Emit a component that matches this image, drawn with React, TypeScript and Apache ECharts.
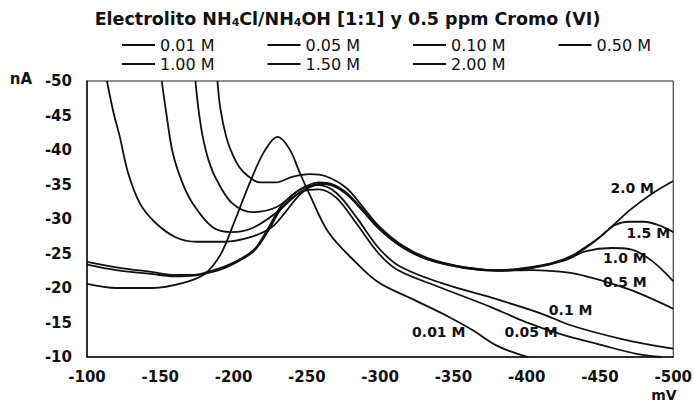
import React, { useEffect, useRef } from 'react';
import * as echarts from 'echarts';

const FONT = 'DejaVu Sans';

const legendRow1 = ['0.01 M', '0.05 M', '0.10 M', '0.50 M'];
const legendRow2 = ['1.00 M', '1.50 M', '2.00 M'];

// [mV, nA]
const c001: number[][] = [
  [-100, -20.6], [-120, -20.0], [-145, -20.0], [-165, -20.7], [-180, -22.0], [-191, -24.8],
  [-200, -29.3], [-211, -35.2], [-221, -39.8], [-230, -41.9], [-238, -40.2], [-245, -36.8],
  [-252, -33.5], [-265, -28.0], [-284, -23.6], [-299, -20.8], [-320, -18.6], [-347, -15.8],
  [-363, -13.9], [-381, -11.5], [-401, -10.0],
];
const c005: number[][] = [
  [-100, -23.4], [-120, -22.6], [-145, -22.0], [-160, -21.7], [-173, -21.8], [-185, -22.3],
  [-195, -23.0], [-207, -24.3], [-215, -25.6], [-224, -28.4], [-233, -31.6], [-247, -34.0],
  [-258, -34.3], [-270, -33.1], [-284, -29.3], [-299, -25.0], [-312, -22.6], [-342, -20.0],
  [-376, -17.2], [-399, -15.1], [-422, -13.4], [-450, -11.8], [-476, -10.4], [-492, -10.0],
];
const c010: number[][] = [
  [-100, -23.8], [-120, -23.0], [-145, -22.3], [-160, -21.9], [-173, -21.9], [-185, -22.5],
  [-195, -23.2], [-207, -24.5], [-215, -25.8], [-224, -28.8], [-233, -32.0], [-247, -34.5],
  [-258, -34.9], [-270, -33.8], [-284, -30.2], [-299, -25.8], [-313, -23.2], [-342, -20.7],
  [-376, -18.6], [-410, -16.3], [-430, -14.6], [-465, -12.6], [-500, -11.2],
];
const c050: number[][] = [
  [-113.6, -50], [-118, -45.5], [-122.4, -41.9], [-128, -36.7], [-136, -32.3], [-146, -29.6],
  [-160, -27.4], [-175, -26.7], [-194, -26.7], [-212, -27.4], [-226, -28.8], [-235, -30.9],
  [-245, -33.5], [-252, -34.6], [-260, -35.1], [-268, -34.8], [-277, -33.6], [-288, -31.2],
  [-299, -28.6], [-315, -25.9], [-333, -24.1], [-358, -22.9], [-381, -22.5], [-403, -22.6],
  [-430, -22.2], [-444, -21.5], [-454, -20.9], [-476, -19.3], [-500, -17.0],
];
const c100: number[][] = [
  [-151, -50], [-154, -45.5], [-158.5, -39.6], [-165, -35.3], [-172, -32.3], [-185.7, -28.8],
  [-199, -28.1], [-213, -28.7], [-229, -30.9], [-245, -33.8], [-258, -35.1], [-268, -34.9],
  [-277, -33.7], [-288, -31.3], [-299, -28.7], [-315, -26.0], [-333, -24.1], [-358, -22.9],
  [-381, -22.5], [-403, -22.9], [-426, -24.0], [-440, -25.3], [-458, -25.8], [-471, -25.6],
  [-485, -24.0], [-500, -21.0],
];
const c150: number[][] = [
  [-174, -50], [-176, -46], [-179, -41.9], [-183, -38.5], [-188.4, -35.7], [-199, -32.3],
  [-213, -31.0], [-229, -31.7], [-245, -34.2], [-258, -35.3], [-268, -35.0], [-277, -33.8],
  [-288, -31.4], [-299, -28.8], [-315, -26.0], [-333, -24.2], [-358, -23.0], [-381, -22.6],
  [-403, -22.9], [-426, -24.1], [-440, -25.9], [-450, -27.4], [-460, -29.1], [-470, -29.6],
  [-480, -29.6], [-490, -29.1], [-500, -28.1],
];
const c200: number[][] = [
  [-189, -50], [-191, -46], [-195, -41.9], [-199, -39.5], [-204, -37.5], [-210, -36.2],
  [-218, -35.3], [-229, -35.3], [-240, -36.1], [-252, -36.5], [-263, -36.2], [-277, -34.5],
  [-288, -31.8], [-299, -29.0], [-315, -26.2], [-333, -24.3], [-358, -23.0], [-381, -22.6],
  [-395, -22.8], [-417, -23.6], [-435, -25.1], [-449, -27.2], [-460, -29.3], [-471, -31.4],
  [-485, -33.6], [-500, -35.5],
];

const curves = [c001, c005, c010, c050, c100, c150, c200];
const names = [...legendRow1, ...legendRow2];

const annotations: { text: string; at: number[] }[] = [
  { text: '2.0 M', at: [-472, -34.5] },
  { text: '1.5 M', at: [-483, -28.0] },
  { text: '1.0 M', at: [-467, -24.3] },
  { text: '0.5 M', at: [-467, -20.9] },
  { text: '0.1 M', at: [-430, -16.8] },
  { text: '0.05 M', at: [-403, -13.6] },
  { text: '0.01 M', at: [-340, -13.6] },
];

export default function App() {
  const ref = useRef<HTMLDivElement>(null);
  useEffect(() => {
    if (!ref.current) return;
    const chart = echarts.init(ref.current, null, { renderer: 'svg' });
    const legendBase = {
      orient: 'horizontal',
      left: 122,
      icon: 'rect',
      itemWidth: 33,
      itemHeight: 2,
      itemGap: 53,
      padding: 0,
      textStyle: { fontFamily: FONT, fontSize: 16, color: '#111', padding: [0, 0, 0, 0] },
      inactiveColor: '#111',
      selectedMode: false,
    };
    chart.setOption({
      animation: false,
      backgroundColor: '#fff',
      title: {
        text: 'Electrolito NH{s|4}Cl/NH{s|4}OH [1:1] y 0.5 ppm Cromo (VI)',
        left: 'center',
        top: 5,
        textStyle: {
          fontFamily: FONT,
          fontSize: 17.5,
          fontWeight: 'bold',
          color: '#111',
          rich: {
            s: { fontFamily: FONT, fontSize: 11, fontWeight: 'bold', color: '#111', verticalAlign: 'bottom', padding: [6, 0, 0, 0] },
          },
        },
      },
      legend: [
        { ...legendBase, top: 37, data: legendRow1 },
        { ...legendBase, top: 56, data: legendRow2 },
      ],
      grid: {
        left: 87,
        right: 20,
        top: 81,
        bottom: 45,
        show: true,
        borderColor: '#222',
        borderWidth: 1,
        backgroundColor: 'transparent',
      },
      xAxis: {
        type: 'value',
        inverse: true,
        min: -500,
        max: -100,
        interval: 50,
        axisLine: { show: true, lineStyle: { color: '#111', width: 1.5 } },
        axisTick: { show: false },
        splitLine: { show: false },
        axisLabel: { margin: 12, fontFamily: FONT, fontSize: 15, fontWeight: 'bold', color: '#111' },
      },
      yAxis: {
        type: 'value',
        inverse: true,
        min: -50,
        max: -10,
        interval: 5,
        axisLine: { show: true, lineStyle: { color: '#111', width: 1.5 } },
        axisTick: { show: false },
        splitLine: { show: false },
        axisLabel: { margin: 15, fontFamily: FONT, fontSize: 15, fontWeight: 'bold', color: '#111' },
      },
      series: curves.map((d, i) => ({
        name: names[i],
        type: 'line',
        data: d,
        smooth: 0.35,
        symbol: 'none',
        color: '#111',
        lineStyle: { color: '#111', width: 1.8 },
      })),
    });
    const texts = annotations.map((a) => {
      const p = chart.convertToPixel({ gridIndex: 0 }, a.at) as number[];
      return {
        type: 'text',
        x: p[0],
        y: p[1],
        style: {
          text: a.text,
          fontFamily: FONT,
          fontSize: 14,
          fontWeight: 'bold',
          fill: '#111',
          align: 'center',
          verticalAlign: 'middle',
        },
        z: 10,
      };
    });
    chart.setOption({
      graphic: [
        ...texts,
        {
          type: 'text', x: 21, y: 79,
          style: { text: 'nA', fontFamily: FONT, fontSize: 15, fontWeight: 'bold', fill: '#111', align: 'center', verticalAlign: 'middle' },
        },
        {
          type: 'text', x: 664, y: 395,
          style: { text: 'mV', fontFamily: FONT, fontSize: 14, fontWeight: 'bold', fill: '#111', align: 'center', verticalAlign: 'middle' },
        },
      ],
    });
    return () => chart.dispose();
  }, []);
  return (
    <div
      ref={ref}
      style={{ position: 'fixed', left: 0, top: 0, width: 695, height: 402, background: '#fff' }}
    />
  );
}
